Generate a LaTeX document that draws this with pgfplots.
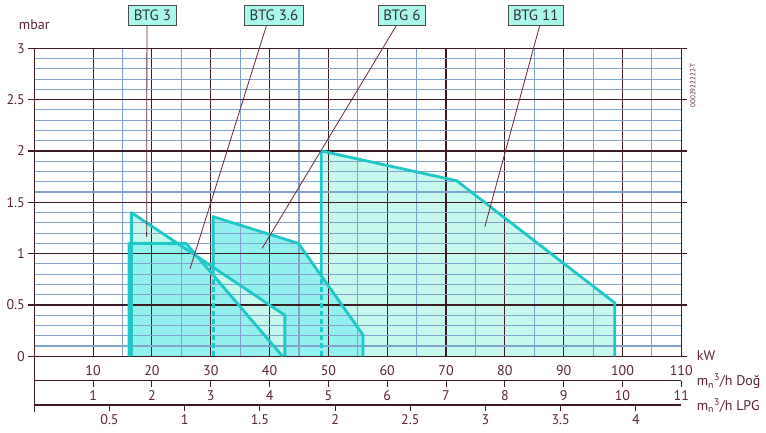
\documentclass[border=0pt]{standalone}
\usepackage{pgfplots}
\pgfplotsset{compat=1.18}
\usepackage{fontspec}
\setmainfont{PT Sans}
\usetikzlibrary{calc}

\definecolor{txt}{HTML}{5A2430}
\definecolor{gridmaj}{HTML}{3C1C20}
\definecolor{gridmin}{HTML}{7FA3CC}
\definecolor{edge}{HTML}{1EC8C8}
\definecolor{lite}{HTML}{C6F8EE}
\definecolor{dark}{HTML}{92F0EE}
\definecolor{boxfill}{HTML}{A8F8EC}
\definecolor{leader}{HTML}{6A2838}

\tikzset{
  lbl/.style={font=\fontsize{14}{16}\selectfont, text=txt},
  btgbox/.style={draw=black!70, line width=1pt, fill=boxfill, text=black!80,
    font=\fontsize{15}{17}\selectfont, minimum height=20pt, inner xsep=5pt, inner ysep=2pt},
  outline/.style={draw=edge, line width=2.8pt, line join=round},
}
\pgfplotsset{
  subaxis/.style={
    scale only axis, width=647pt, height=10pt,
    ymin=0, ymax=1, axis x line*=bottom, axis y line=none,
    x axis line style={-, gridmaj, line width=1.2pt},
    tick align=outside, major tick length=6pt,
    xtick style={gridmaj, line width=1pt},
    ticklabel style={lbl}, /pgf/number format/assume math mode=true,
  },
}

\begin{document}
\begin{tikzpicture}
\begin{axis}[
  name=main, set layers, clip=false,
  scale only axis, width=647pt, height=308pt,
  xmin=0, xmax=110, ymin=0, ymax=3,
  xtick={10,20,...,110}, minor x tick num=1,
  ytick={0,0.5,...,3}, minor y tick num=4,
  grid=both,
  major grid style={gridmaj, line width=1.1pt},
  minor grid style={gridmin, line width=1.1pt},
  axis line style={gridmaj, line width=1.3pt},
  xtick style={draw=none},
  ytick style={gridmaj, line width=1.2pt},
  tick align=outside, major tick length=6pt, minor tick length=0pt,
  ticklabel style={lbl},
  /pgf/number format/assume math mode=true,
]
% fills, below the grid
\addplot[on layer=axis background, fill=lite, draw=none] coordinates {(48.8,0) (48.8,2.0) (71.8,1.71) (98.7,0.52) (98.7,0)} --cycle;
\addplot[on layer=axis background, fill=dark, draw=none] coordinates {(30.4,0) (30.4,1.36) (44.9,1.10) (55.9,0.207) (55.9,0)} --cycle;
\addplot[on layer=axis background, fill=lite, draw=none] coordinates {(16.5,0) (16.5,1.4) (42.6,0.4) (42.6,0)} --cycle;
\addplot[on layer=axis background, fill=dark, draw=none] coordinates {(16.1,0) (16.1,1.1) (25.8,1.1) (42.2,0)} --cycle;

% outlines
\addplot[outline, dash pattern=on 5pt off 3pt] coordinates {(48.8,0) (48.8,0.78)};
\addplot[outline] coordinates {(48.8,0.78) (48.8,2.0) (71.8,1.71) (98.7,0.52) (98.7,0)};
\addplot[outline, dash pattern=on 5pt off 3pt] coordinates {(30.4,0) (30.4,0.79)};
\addplot[outline] coordinates {(30.4,0.79) (30.4,1.36) (44.9,1.10) (55.9,0.207) (55.9,0)};
\addplot[outline] coordinates {(16.5,0) (16.5,1.4) (42.6,0.4) (42.6,0)};
\addplot[outline] coordinates {(16.1,0) (16.1,1.1) (25.8,1.1) (42.2,0)};

% leaders and name boxes
\draw[leader, line width=0.8pt] (axis cs:19.15,3.226) -- (axis cs:19.1,1.165);
\draw[leader, line width=0.8pt] (axis cs:39.5,3.226) -- (axis cs:26.46,0.85);
\draw[leader, line width=0.8pt] (axis cs:61.6,3.226) -- (axis cs:38.74,1.052);
\draw[leader, line width=0.8pt] (axis cs:85.9,3.216) -- (axis cs:76.6,1.262);
\node[btgbox] at (axis cs:20.08,3.318) {BTG 3};
\node[btgbox] at (axis cs:40.76,3.318) {BTG 3.6};
\node[btgbox] at (axis cs:62.5,3.318) {BTG 6};
\node[btgbox] at (axis cs:85.25,3.318) {BTG 11};
\end{axis}

% natural gas flow scale
\begin{axis}[subaxis, at={($(main.south west)+(0,-24.4pt)$)}, anchor=south west,
  xmin=0, xmax=11, xtick={1,2,...,11}]
\end{axis}
% LPG flow scale
\begin{axis}[subaxis, at={($(main.south west)+(0,-48.7pt)$)}, anchor=south west,
  xmin=0, xmax=4.302, xtick={0.5,1,...,4}]
\end{axis}

\draw[gridmaj, line width=1.3pt] (main.south west) -- ++(0,-56pt);

\node[lbl] at ($(main.north west)+(0,24pt)$) {mbar};
\node[lbl, anchor=west] at ($(main.south east)+(12pt,1pt)$) {kW};
\node[lbl, anchor=west] at ($(main.south east)+(12pt,-25pt)$) {m\textsubscript{n}\textsuperscript{3}/h Doğ};
\node[lbl, anchor=west] at ($(main.south east)+(12pt,-49pt)$) {m\textsubscript{n}\textsuperscript{3}/h LPG};
\node[font=\fontsize{7}{8}\selectfont, text=txt, rotate=90] at ($(main.north east)+(11.5pt,-37pt)$) {0002922222-T};

\pgfresetboundingbox
\path ($(main.south west)+(-34.3pt,-76.7pt)$) rectangle ++(766pt,433pt);
\end{tikzpicture}
\end{document}
